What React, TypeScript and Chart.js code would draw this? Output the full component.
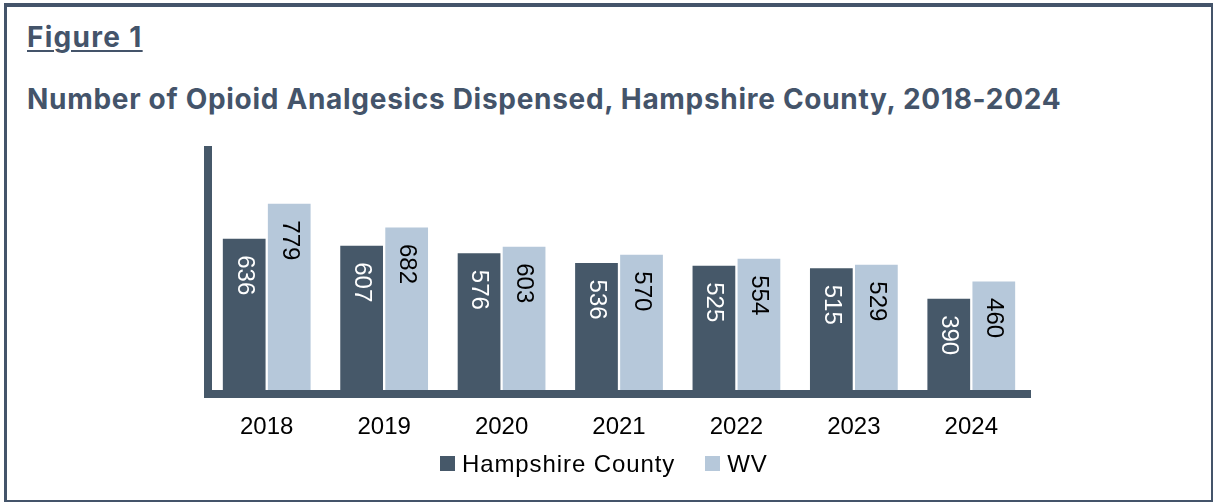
import React, { useEffect, useRef } from "react";
import { Chart, registerables } from "chart.js";

Chart.register(...registerables);

// ---- data ----
const categories = ["2018", "2019", "2020", "2021", "2022", "2023", "2024"];
const hampshireValues = [636, 607, 576, 536, 525, 515, 390];
const wvValues = [779, 682, 603, 570, 554, 529, 460];
const seriesNames = ["Hampshire County", "WV"];
const yMin = 0;
const yMax = 1000;
const figureLabel = "Figure 1";
const titleText = "Number of Opioid Analgesics Dispensed, Hampshire County, 2018-2024";

// ---- styles ----
const DARK = "#465869";
const LIGHT = "#b6c8da";
const FRAME = "#44546a";
const SANS = "'Liberation Sans', Arial, sans-serif";
const TITLE_FONT = "Inter, 'Liberation Sans', sans-serif";
const seriesColors = [DARK, LIGHT];
const labelColors = ["#ffffff", "#000000"];

const valueLabels = {
  id: "valueLabels",
  afterDatasetsDraw(chart: any) {
    const ctx = chart.ctx;
    chart.data.datasets.forEach((ds: any, di: number) => {
      const meta = chart.getDatasetMeta(di);
      meta.data.forEach((bar: any, i: number) => {
        const v = ds.data[i];
        ctx.save();
        ctx.translate(bar.x, bar.y + 16.5);
        ctx.rotate(Math.PI / 2);
        ctx.font = `24px ${SANS}`;
        ctx.fillStyle = labelColors[di];
        ctx.textAlign = "left";
        ctx.textBaseline = "middle";
        ctx.fillText(String(v), 0, 0);
        ctx.restore();
      });
    });
  },
};

function BarChart() {
  const ref = useRef<HTMLCanvasElement>(null);
  useEffect(() => {
    if (!ref.current) return;
    const chart = new Chart(ref.current, {
      type: "bar",
      data: {
        labels: categories,
        datasets: [
          {
            label: seriesNames[0],
            data: hampshireValues,
            backgroundColor: seriesColors[0],
            borderWidth: 0,
            categoryPercentage: 0.767,
            barPercentage: 0.949,
          },
          {
            label: seriesNames[1],
            data: wvValues,
            backgroundColor: seriesColors[1],
            borderWidth: 0,
            categoryPercentage: 0.767,
            barPercentage: 0.949,
          },
        ],
      },
      options: {
        animation: false,
        responsive: false,
        maintainAspectRatio: false,
        devicePixelRatio: 1,
        layout: { padding: { left: 208, right: 185, top: 150, bottom: 43.5 } },
        plugins: {
          legend: { display: false },
          tooltip: { enabled: false },
          title: { display: false },
        },
        scales: {
          x: {
            grid: { display: false, drawTicks: false },
            border: { display: true, color: DARK, width: 8, z: 1 },
            ticks: {
              color: "#000000",
              font: { family: SANS, size: 24 },
              padding: 19,
              maxRotation: 0,
            },
          },
          y: {
            min: yMin,
            max: yMax,
            grid: { display: false, drawTicks: false },
            border: { display: true, color: DARK, width: 8, z: 1 },
            ticks: { display: false },
          },
        },
      },
      plugins: [valueLabels],
    } as any);
    return () => chart.destroy();
  }, []);
  return (
    <canvas
      ref={ref}
      width={1215}
      height={504}
      style={{ position: "absolute", left: 0, top: 0, width: 1215, height: 504 }}
    />
  );
}

export default function App() {
  return (
    <div
      style={{
        position: "absolute",
        left: 0,
        top: 0,
        width: 1215,
        height: 504,
        background: "#ffffff",
        overflow: "hidden",
      }}
    >
      <div
        style={{
          position: "absolute",
          left: 4,
          top: 3,
          width: 1209,
          height: 499,
          boxSizing: "border-box",
          borderTop: `4px solid ${FRAME}`,
          borderLeft: `3px solid ${FRAME}`,
          borderRight: `2px solid ${FRAME}`,
          borderBottom: `2px solid ${FRAME}`,
        }}
      />
      <div
        style={{
          position: "absolute",
          left: 27,
          top: 22.5,
          fontFamily: TITLE_FONT,
          fontWeight: 700,
          fontSize: 28,
          lineHeight: "28px",
          letterSpacing: 1.3,
          color: FRAME,
          textDecoration: "underline",
          textDecorationThickness: 2,
          textUnderlineOffset: 3,
          whiteSpace: "nowrap",
        }}
      >
        {figureLabel}
      </div>
      <div
        style={{
          position: "absolute",
          left: 27,
          top: 85.3,
          fontFamily: TITLE_FONT,
          fontWeight: 700,
          fontSize: 28,
          lineHeight: "28px",
          letterSpacing: 0.7,
          color: FRAME,
          whiteSpace: "nowrap",
        }}
      >
        {titleText}
      </div>
      <BarChart />
      <div
        style={{
          position: "absolute",
          left: 440,
          top: 451.5,
          display: "flex",
          alignItems: "center",
          fontFamily: SANS,
          fontSize: 24,
          lineHeight: "24px",
          color: "#000",
          letterSpacing: 0.9,
          whiteSpace: "nowrap",
        }}
      >
        {seriesNames.map((name, i) => (
          <div
            key={name}
            style={{ display: "flex", alignItems: "center", marginRight: i === 0 ? 30 : 0 }}
          >
            <span
              style={{
                display: "inline-block",
                width: 15,
                height: 15,
                background: seriesColors[i],
                marginRight: 7,
              }}
            />
            <span>{name}</span>
          </div>
        ))}
      </div>
    </div>
  );
}
